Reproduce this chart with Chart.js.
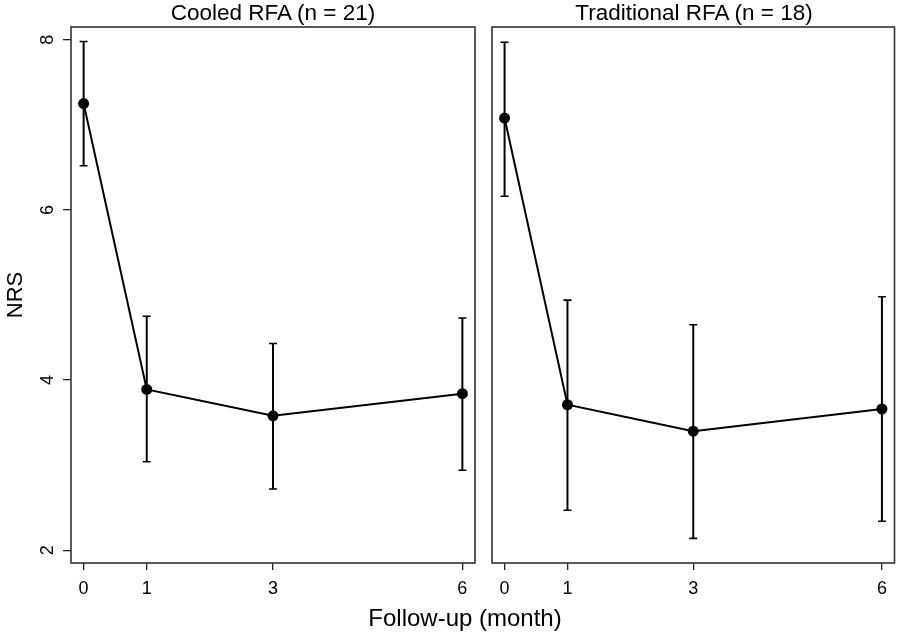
<!DOCTYPE html>
<html lang="en">
<head>
  <meta charset="UTF-8" />
  <title>NRS follow-up</title>
  <script src="https://cdn.jsdelivr.net/npm/chart.js"></script>
  <style>
    body {
      margin: 0;
      background: #fff;
      font-family: "Liberation Sans", Arial, sans-serif;
    }
    .wrap {
      position: relative;
      width: 900px;
      height: 635px;
      overflow: hidden;
    }
    canvas {
      position: absolute;
      top: 0;
    }
    .title {
      position: absolute;
      top: 2px;
      width: 404px;
      text-align: center;
      font-size: 22.5px;
      line-height: 22px;
      color: #000;
      white-space: nowrap;
    }
    .ytitle {
      position: absolute;
      left: -85px;
      top: 284px;
      width: 200px;
      height: 22px;
      line-height: 22px;
      font-size: 22px;
      text-align: center;
      transform: rotate(-90deg);
    }
    .xtitle {
      position: absolute;
      left: 265px;
      top: 606px;
      width: 400px;
      line-height: 24px;
      font-size: 24px;
      text-align: center;
    }
  </style>
</head>
<body>
  <div class="wrap">
    <canvas id="left" width="484" height="635" style="left:0"></canvas>
    <canvas id="right" width="416" height="635" style="left:484px"></canvas>
    <div class="title" style="left:71px">Cooled RFA (n = 21)</div>
    <div class="title" style="left:492px">Traditional RFA (n = 18)</div>
    <div class="ytitle">NRS</div>
    <div class="xtitle">Follow-up (month)</div>
  </div>

  <script>
    const months = [0, 1, 3, 6];
    const xTicks = [0, 1, 3, 6];
    const yTicks = [2, 4, 6, 8];

    const cooledMean = [7.25, 3.89, 3.58, 3.84];
    const cooledLow = [6.52, 3.04, 2.72, 2.94];
    const cooledHigh = [7.98, 4.75, 4.43, 4.73];

    const tradMean = [7.08, 3.71, 3.40, 3.66];
    const tradLow = [6.16, 2.47, 2.14, 2.34];
    const tradHigh = [7.97, 4.94, 4.65, 4.98];

    const FONT = '"Liberation Sans", Arial, sans-serif';

    // whiskers from low to high with small caps
    const errorBars = {
      id: 'errorBars',
      beforeDatasetsDraw(chart, args, opts) {
        const ctx = chart.ctx;
        const xs = chart.scales.x, ys = chart.scales.y;
        ctx.save();
        ctx.strokeStyle = '#000';
        for (let i = 0; i < months.length; i++) {
          const x = xs.getPixelForValue(months[i]);
          const yl = ys.getPixelForValue(opts.low[i]);
          const yh = ys.getPixelForValue(opts.high[i]);
          ctx.lineWidth = 2;
          ctx.beginPath();
          ctx.moveTo(x, yl);
          ctx.lineTo(x, yh);
          ctx.stroke();
          ctx.lineWidth = 1.6;
          ctx.beginPath();
          ctx.moveTo(x - 4, yl);
          ctx.lineTo(x + 4, yl);
          ctx.moveTo(x - 4, yh);
          ctx.lineTo(x + 4, yh);
          ctx.stroke();
        }
        ctx.restore();
      }
    };

    const frame = {
      id: 'frame',
      afterDraw(chart) {
        const a = chart.chartArea, ctx = chart.ctx;
        ctx.save();
        ctx.strokeStyle = '#333';
        ctx.lineWidth = 1.6;
        ctx.strokeRect(a.left, a.top, a.right - a.left, a.bottom - a.top);
        ctx.restore();
      }
    };

    // y tick labels are rotated, read bottom to top
    const yLabels = {
      id: 'yLabels',
      afterDraw(chart, args, opts) {
        if (!opts.show) return;
        const ctx = chart.ctx, ys = chart.scales.y;
        ctx.save();
        ctx.fillStyle = '#000';
        ctx.font = '18px ' + FONT;
        ctx.textAlign = 'center';
        ctx.textBaseline = 'alphabetic';
        for (const v of yTicks) {
          ctx.save();
          ctx.translate(53, ys.getPixelForValue(v));
          ctx.rotate(-Math.PI / 2);
          ctx.fillText(String(v), 0, 0);
          ctx.restore();
        }
        ctx.restore();
      }
    };

    function makePanel(id, mean, low, high, showY) {
      const tickGrid = { drawOnChartArea: false, color: '#222', lineWidth: 1.3 };
      return new Chart(document.getElementById(id), {
        type: 'line',
        data: {
          datasets: [{
            data: months.map((m, i) => ({ x: m, y: mean[i] })),
            borderColor: '#000',
            borderWidth: 2,
            backgroundColor: '#000',
            pointRadius: 5.5,
            pointBorderWidth: 0,
            tension: 0,
            fill: false
          }]
        },
        options: {
          responsive: false,
          animation: false,
          layout: { padding: { top: 27, right: showY ? 9 : 4, left: showY ? 0 : 8, bottom: 0 } },
          plugins: {
            legend: { display: false },
            tooltip: { enabled: false },
            errorBars: { low, high },
            yLabels: { show: showY }
          },
          scales: {
            x: {
              type: 'linear',
              min: -0.2,
              max: 6.2,
              afterBuildTicks: s => { s.ticks = xTicks.map(v => ({ value: v })); },
              afterFit: s => { s.height = 72; },
              grid: { ...tickGrid, tickLength: 7 },
              border: { display: false },
              ticks: {
                color: '#000',
                font: { family: FONT, size: 18 },
                padding: 8,
                maxRotation: 0,
                autoSkip: false
              }
            },
            y: {
              display: showY,
              min: 1.85,
              max: 8.15,
              afterBuildTicks: s => { s.ticks = yTicks.map(v => ({ value: v })); },
              afterFit: s => { s.width = showY ? 71 : 0; },
              grid: { ...tickGrid, tickLength: 8 },
              border: { display: false },
              ticks: { display: false }
            }
          }
        },
        plugins: [errorBars, frame, yLabels]
      });
    }

    makePanel('left', cooledMean, cooledLow, cooledHigh, true);
    makePanel('right', tradMean, tradLow, tradHigh, false);
  </script>
</body>
</html>
